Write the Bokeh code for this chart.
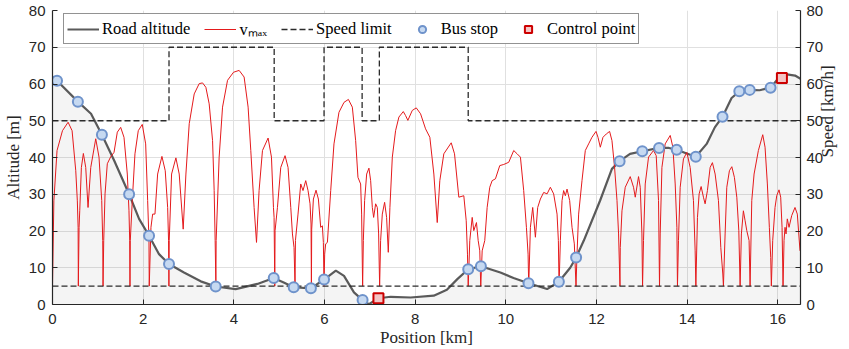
import math
from bokeh.plotting import figure
from bokeh.models import Range1d, LinearAxis, Legend, LegendItem, FixedTicker
from bokeh.embed import file_html
from bokeh.resources import INLINE

# ---------------- data ----------------
# road altitude profile [km], [m]
alt_x = [0.00, 0.10, 0.56, 0.85, 1.09, 1.36, 1.69, 1.91, 2.13, 2.35, 2.57, 2.90, 3.27, 3.60,
         4.04, 4.52, 4.88, 5.10, 5.32, 5.70, 5.99, 6.25, 6.43, 6.65, 6.84, 6.98, 7.19, 7.46,
         7.90, 8.41, 8.70, 8.93, 9.17, 9.45, 9.88, 10.17, 10.50, 10.91, 11.17, 11.42, 11.55,
         11.72, 12.08, 12.34, 12.51, 12.74, 13.01, 13.38, 13.60, 13.77, 13.99, 14.19, 14.43,
         14.61, 14.78, 14.98, 15.15, 15.38, 15.60, 15.84, 16.05, 16.20, 16.38, 16.50]
alt_y = [62.0, 60.9, 55.2, 51.9, 46.2, 39.2, 30.0, 23.3, 18.7, 13.7, 11.0, 8.7, 6.3, 4.9,
         4.2, 5.6, 7.2, 6.0, 4.7, 4.4, 6.8, 9.2, 7.8, 3.3, 1.2, 0.1, 1.7, 2.1,
         1.9, 2.4, 4.0, 6.9, 9.6, 10.4, 8.7, 7.2, 5.8, 4.2, 6.2, 10.0, 12.8,
         17.4, 28.3, 36.9, 39.0, 41.0, 41.7, 42.6, 42.6, 42.1, 41.1, 40.2, 43.7,
         48.2, 51.1, 56.2, 58.0, 58.4, 58.3, 59.0, 62.1, 62.6, 62.3, 61.4]

# maximum speed profile v_max [km], [km/h]
vmax_x = [0.000, 0.030, 0.100, 0.220, 0.344, 0.432, 0.513, 0.548, 0.565, 0.570,
          0.586, 0.601, 0.637, 0.681, 0.733, 0.784, 0.844, 0.954, 1.026, 1.086, 1.108, 1.115,
          1.130, 1.159, 1.209, 1.284, 1.357, 1.430, 1.504, 1.577, 1.650, 1.687, 1.703, 1.709,
          1.716, 1.760, 1.819, 1.892, 1.980, 2.055, 2.099, 2.128, 2.134,
          2.172, 2.209, 2.260, 2.319, 2.414, 2.487, 2.540, 2.560, 2.568,
          2.575, 2.627, 2.722, 2.795, 2.883, 2.943, 3.016, 3.126, 3.236, 3.310, 3.383, 3.456,
          3.531, 3.566, 3.588, 3.604,
          3.610, 3.676, 3.751, 3.861, 3.993, 4.117, 4.227, 4.315, 4.374, 4.447, 4.500, 4.557,
          4.632, 4.756, 4.830, 4.874, 4.888, 4.903,
          4.910, 4.962, 5.035, 5.130, 5.196, 5.256, 5.293, 5.328, 5.350,
          5.359, 5.416, 5.476, 5.526, 5.586, 5.637, 5.681, 5.703, 5.711,
          5.718, 5.755, 5.813, 5.865, 5.916, 5.953, 5.975, 5.989,
          6.004, 6.026, 6.064, 6.137, 6.209, 6.319, 6.430, 6.527, 6.614, 6.687, 6.738, 6.797,
          6.819, 6.841,
          6.857, 6.885, 6.930, 6.980, 7.018, 7.055, 7.084, 7.128, 7.165, 7.194, 7.216,
          7.238, 7.275, 7.326, 7.370, 7.407, 7.443, 7.496, 7.568, 7.641, 7.738, 7.789, 7.839,
          7.936, 8.024, 8.119, 8.229, 8.324, 8.412, 8.487, 8.544, 8.632, 8.795, 8.868, 8.963,
          9.073, 9.126, 9.154, 9.170,
          9.205, 9.258, 9.293, 9.352, 9.390, 9.425, 9.447,
          9.478, 9.535, 9.588, 9.645, 9.698, 9.771, 9.866, 9.954, 10.064, 10.174, 10.249,
          10.322, 10.394, 10.454, 10.491, 10.505,
          10.542, 10.593, 10.652, 10.703, 10.762, 10.835, 10.910, 10.982, 11.055, 11.130,
          11.159, 11.174,
          11.203, 11.240, 11.275, 11.313, 11.350, 11.408, 11.460, 11.511, 11.548,
          11.570, 11.606, 11.680, 11.753, 11.826, 11.900, 11.989, 12.033, 12.084, 12.143,
          12.216, 12.289, 12.341, 12.399, 12.452, 12.487, 12.518,
          12.524, 12.562, 12.634, 12.744, 12.817, 12.855, 12.927, 12.965, 13.002, 13.016,
          13.037, 13.075, 13.148, 13.258, 13.317, 13.368, 13.390,
          13.405, 13.443, 13.515, 13.626, 13.685, 13.736, 13.773, 13.786,
          13.808, 13.846, 13.918, 13.993, 14.066, 14.139, 14.176, 14.192,
          14.227, 14.264, 14.308, 14.359, 14.396, 14.447, 14.507, 14.557, 14.617, 14.690,
          14.742, 14.786, 14.800,
          14.837, 14.874, 14.932, 14.985, 15.042, 15.095, 15.139, 15.168,
          15.196, 15.240, 15.278, 15.315, 15.366, 15.388,
          15.425, 15.476, 15.571, 15.667, 15.718, 15.769, 15.813, 15.843, 15.857,
          15.887, 15.938, 15.976, 16.026, 16.063, 16.093, 16.115,
          16.137, 16.159, 16.181, 16.209, 16.247, 16.306, 16.379, 16.430, 16.489]
vmax_v = [5.0, 28.2, 41.9, 47.3, 49.6, 47.3, 36.4, 28.2, 21.0, 5.0,
          21.0, 25.5, 37.3, 41.1, 37.3, 26.4, 37.3, 45.1, 40.1, 28.3, 17.4, 5.0,
          17.4, 30.1, 38.3, 40.2, 41.4, 46.9, 48.2, 45.5, 35.5, 25.5, 17.4, 5.0,
          17.4, 28.3, 41.0, 47.3, 49.0, 43.7, 28.3, 17.4, 5.0,
          21.0, 24.6, 24.6, 35.5, 40.3, 36.4, 26.4, 17.4, 5.0,
          17.4, 35.5, 39.9, 35.5, 20.5, 35.5, 49.2, 57.3, 60.1, 60.3, 59.1, 54.6,
          44.6, 31.0, 17.4, 5.0,
          17.4, 40.1, 53.7, 61.0, 63.2, 63.7, 61.9, 53.7, 41.9, 26.4, 16.9, 31.0,
          41.9, 45.3, 40.1, 26.4, 23.7, 5.0,
          20.1, 26.4, 37.3, 40.5, 37.3, 26.4, 19.2, 15.5, 5.0,
          17.4, 24.6, 32.8, 31.0, 33.7, 31.0, 27.4, 21.9, 5.0,
          20.5, 28.7, 31.1, 28.7, 21.0, 21.4, 16.9, 5.0,
          13.7, 16.5, 16.9, 31.0, 43.7, 52.3, 55.0, 55.8, 53.7, 44.6, 34.6, 32.8,
          24.6, 5.0,
          17.4, 28.3, 35.5, 37.1, 33.7, 26.4, 23.7, 27.4, 26.4, 19.2, 5.0,
          17.4, 24.6, 27.8, 23.7, 14.2, 26.4, 40.1, 47.3, 51.0, 52.5, 51.4, 50.1,
          52.8, 53.5, 51.9, 47.8, 45.5, 35.5, 22.3, 33.7, 41.0, 44.0, 41.0, 29.2,
          29.6, 22.8, 13.7, 5.0,
          17.4, 23.7, 20.1, 22.3, 17.4, 14.6, 5.0,
          14.6, 17.4, 26.4, 31.9, 33.7, 34.2, 37.8, 38.1, 38.7, 41.9, 41.0,
          40.1, 31.0, 21.0, 13.7, 5.0,
          21.0, 26.4, 18.3, 26.4, 28.7, 30.5, 30.1, 31.9, 30.1, 24.6,
          17.4, 5.0,
          17.4, 28.3, 31.0, 29.6, 31.4, 28.3, 21.0, 16.5, 5.0,
          13.7, 24.6, 33.7, 41.9, 43.7, 45.5, 47.1, 45.5, 42.8, 45.5,
          46.4, 47.1, 44.6, 37.3, 28.3, 19.2, 5.0,
          15.5, 25.5, 31.9, 34.8, 31.9, 29.2, 34.8, 31.9, 19.2, 5.0,
          17.4, 32.8, 40.1, 41.9, 40.5, 28.3, 5.0,
          19.2, 37.3, 43.7, 46.0, 42.8, 32.8, 21.0, 5.0,
          17.4, 31.9, 39.6, 41.4, 37.3, 28.3, 14.6, 5.0,
          23.7, 30.1, 32.1, 29.2, 27.4, 31.0, 37.3, 38.6, 35.5, 28.3,
          15.5, 8.3, 5.0,
          19.2, 31.9, 36.4, 37.5, 34.6, 29.2, 20.1, 5.0,
          19.2, 25.5, 22.8, 20.1, 17.4, 5.0,
          28.3, 35.5, 41.9, 46.2, 42.8, 32.8, 21.0, 12.8, 5.0,
          17.4, 26.4, 29.6, 31.2, 29.2, 21.0, 5.0,
          17.4, 21.0, 19.2, 23.3, 21.0, 24.2, 26.4, 24.6, 14.6]

# speed limit (step, "after")
limit_x = [0.00, 2.57, 4.89, 5.99, 6.83, 7.21, 9.17, 16.50]
limit_v = [50, 70, 50, 70, 50, 70, 50, 50]
# minimum speed limit
min_x = [0.0, 16.5]
min_v = [5, 5]

# bus stops
stop_x = [0.10, 0.56, 1.09, 1.69, 2.13, 2.57, 3.60, 4.88, 5.32, 5.70, 5.99, 6.84, 9.17,
          9.45, 10.50, 11.17, 11.55, 12.51, 13.01, 13.38, 13.77, 14.19, 14.78, 15.15,
          15.38, 15.84]
stop_alt = [60.9, 55.2, 46.2, 30.0, 18.7, 11.0, 4.9, 7.2, 4.7, 4.4, 6.8, 1.2, 9.6,
            10.4, 5.8, 6.2, 12.8, 39.0, 41.7, 42.6, 42.1, 40.2, 51.1, 58.0,
            58.4, 59.0]

# control points
ctrl_x = [7.19, 16.09]
ctrl_alt = [1.7, 61.6]

x_ticks = [0, 2, 4, 6, 8, 10, 12, 14, 16]
y_ticks = [0, 10, 20, 30, 40, 50, 60, 70, 80]

# ---------------- figure ----------------
SERIF = "'Liberation Serif', 'Times New Roman', serif"
SANS = "'Liberation Sans', Arial, sans-serif"

p = figure(width=849, height=349, output_backend="svg", toolbar_location=None,
           x_range=Range1d(0, 16.5), y_range=Range1d(0, 80),
           min_border_left=51, min_border_right=48, min_border_top=10, min_border_bottom=45)
p.extra_y_ranges = {"speed": Range1d(0, 80)}
p.outline_line_color = None
p.background_fill_color = "white"

p.xaxis.ticker = FixedTicker(ticks=x_ticks)
p.yaxis.ticker = FixedTicker(ticks=y_ticks)
p.xgrid.ticker = FixedTicker(ticks=x_ticks)
p.ygrid.ticker = FixedTicker(ticks=y_ticks)
p.grid.grid_line_color = "#e0e0e0"
p.grid.grid_line_width = 1

right_axis = LinearAxis(y_range_name="speed", ticker=FixedTicker(ticks=y_ticks),
                        axis_label="Speed [km/h]")
p.add_layout(right_axis, "right")

p.xaxis.axis_label = "Position [km]"
p.yaxis[0].axis_label = "Altitude [m]"

for ax in p.axis:
    ax.axis_line_color = "#262626"
    ax.axis_line_width = 1.2
    ax.major_tick_in = 5
    ax.major_tick_out = 0
    ax.minor_tick_in = 0
    ax.minor_tick_out = 0
    ax.minor_tick_line_color = None
    ax.major_tick_line_color = "#262626"
    ax.major_label_text_font = SANS
    ax.major_label_text_font_size = "15px"
    ax.major_label_text_color = "#262626"
    ax.axis_label_text_font = SERIF
    ax.axis_label_text_font_size = "17px"
    ax.axis_label_text_font_style = "normal"
    ax.axis_label_text_color = "#262626"

p.xaxis.major_label_standoff = 9
p.xaxis.axis_label_standoff = 1
p.yaxis[0].major_label_standoff = 7
p.yaxis[0].axis_label_standoff = 3
right_axis.major_label_standoff = 6
right_axis.axis_label_standoff = 1
right_axis.axis_label_orientation = math.pi / 2

# altitude area + line
p.varea(x=alt_x, y1=0, y2=alt_y, fill_color="black", fill_alpha=0.045)
r_alt = p.line(alt_x, alt_y, line_color="#5a5a5a", line_width=2.2)

# v_max
r_v = p.line(vmax_x, vmax_v, y_range_name="speed", line_color="#e41a1c", line_width=1)

# speed limits
r_lim = p.step(limit_x, limit_v, mode="after", y_range_name="speed",
               line_color="#2b2b2b", line_width=1.3, line_dash="6 3")
p.line(min_x, min_v, y_range_name="speed", line_color="#2b2b2b", line_width=1.3,
       line_dash="6 3")

# markers
r_bus = p.scatter(stop_x, stop_alt, marker="circle", size=10, fill_color="#c6d9f1",
                  line_color="#6f93cb", line_width=2)
r_ctrl = p.scatter(ctrl_x, ctrl_alt, marker="square", size=10, fill_color="#f4c6c6",
                   line_color="#cc0000", line_width=2)

legend = Legend(items=[
    LegendItem(label="Road altitude", renderers=[r_alt]),
    LegendItem(label="vₘₐₓ", renderers=[r_v]),
    LegendItem(label="Speed limit", renderers=[r_lim]),
    LegendItem(label="Bus stop", renderers=[r_bus]),
    LegendItem(label="Control point", renderers=[r_ctrl]),
], orientation="horizontal", location=(11, 260))
legend.margin = 0
legend.padding = 3
legend.spacing = 14
legend.glyph_width = 32
legend.glyph_height = 18
legend.label_height = 18
legend.label_standoff = 3
legend.label_text_font = SERIF
legend.label_text_font_size = "16.5px"
legend.label_text_color = "#000000"
legend.border_line_color = "#262626"
legend.border_line_width = 1
legend.background_fill_color = "white"
legend.background_fill_alpha = 1
p.add_layout(legend)

open("out.html", "w").write(file_html(p, INLINE))
